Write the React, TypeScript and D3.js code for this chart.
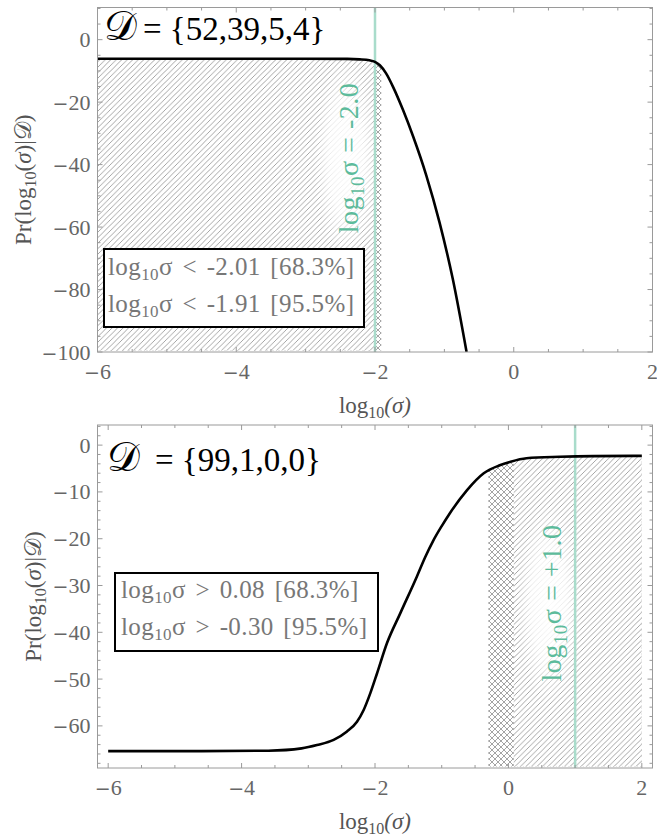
import React from 'react';
import * as d3 from 'd3';

const W = 657;
const H = 837;

// ---- data ----
const topX = [-6, -4, -3, -2.4, -2.22, -2.08, -2.0, -1.93, -1.84, -1.74, -1.6, -1.45, -1.26, -1.07, -0.88, -0.68];
const topY = [-6.1, -6.1, -6.1, -6.15, -6.3, -6.6, -7.1, -8.2, -10.8, -15.1, -22.3, -31.0, -43.5, -58.5, -76.5, -100];

const botX = [-6, -4.6, -3.6, -3.1, -2.87, -2.62, -2.42, -2.27, -2.17, -2.07, -1.97, -1.82, -1.62, -1.37, -1.25, -1.13, -1.0, -0.88, -0.62, -0.37, -0.13, 0.02, 0.27, 0.77, 1.27, 2.0];
const botY = [-65.4, -65.4, -65.3, -64.8, -64.1, -63.0, -61.2, -59.1, -56.6, -53.0, -48.8, -42.3, -35.9, -28.0, -24.0, -20.5, -17.3, -14.6, -9.6, -6.0, -4.3, -3.6, -2.8, -2.5, -2.35, -2.3];

const xMajorTicks = [-6, -4, -2, 0, 2];
const topYMajorTicks = [-100, -80, -60, -40, -20, 0];
const botYMajorTicks = [-60, -50, -40, -30, -20, -10, 0];

const topTitle = '{52,39,5,4}';
const botTitle = '{99,1,0,0}';
const topMarker = -2.0;
const botMarker = 1.0;
const topMarkerText = '-2.0';
const botMarkerText = '+1.0';
// [68.3% bound, 95.5% bound]
const topBounds = [-2.01, -1.91];
const botBounds = [0.08, -0.3];
const topLegend = ['< -2.01 [68.3%]', '< -1.91 [95.5%]'];
const botLegend = ['> 0.08 [68.3%]', '> -0.30 [95.5%]'];

const SERIF = '"Liberation Serif", "DejaVu Serif", serif';
const TEAL_TEXT = '#5dbb9b';
const TEAL_LINE = '#a9dccb';
const FRAME = '#9a9a9a';
const TICK_TEXT = '#666';

const serifStyle = { fontFamily: SERIF };
const minusStyle = { fontFamily: '"DejaVu Serif", serif' };

function TickText({ v }: { v: number }) {
  if (v < 0) {
    return (
      <>
        <tspan style={minusStyle} fontSize={19}>{'\u2212'}</tspan>
        <tspan>{String(Math.abs(v))}</tspan>
      </>
    );
  }
  return <tspan>{String(v)}</tspan>;
}

type PanelProps = {
  id: string;
  xs: number[];
  ys: number[];
  xDomain: [number, number];
  yDomain: [number, number];
  left: number;
  right: number;
  top: number;
  bottom: number;
  yMajor: number[];
  yMinorStep: number;
  title: string;
  titleX: number;
  titleY: number;
  titleGap: number;
  marker: number;
  markerText: string;
  markerLabelX: number;
  markerLabelY: number;
  bounds: number[];
  direction: 'lt' | 'gt';
  legend: string[];
  legendBox: [number, number, number, number];
  legendTextX: number;
  legendBaselines: number[];
  yLabelX: number;
};

function Panel(p: PanelProps) {
  const x = d3.scaleLinear().domain(p.xDomain).range([p.left, p.right]);
  const y = d3.scaleLinear().domain(p.yDomain).range([p.bottom, p.top]);
  const pts: [number, number][] = p.xs.map((v, i) => [v, p.ys[i]]);
  const line = d3
    .line<[number, number]>()
    .x((d) => x(d[0]))
    .y((d) => y(d[1]))
    .curve(d3.curveMonotoneX);
  const area = d3
    .area<[number, number]>()
    .x((d) => x(d[0]))
    .y0(p.bottom)
    .y1((d) => y(d[1]))
    .curve(d3.curveMonotoneX);

  const xMinorTicks = d3.range(Math.ceil(p.xDomain[0] * 2) / 2, p.xDomain[1] + 1e-9, 0.5);
  const yMinorTicks = d3.range(
    Math.ceil(p.yDomain[0] / p.yMinorStep) * p.yMinorStep,
    p.yDomain[1] + 1e-9,
    p.yMinorStep
  );

  const [b68, b95] = p.bounds;
  const r95 = p.direction === 'lt' ? [p.xs[0], b95] : [b95, p.xs[p.xs.length - 1]];
  const r68 = p.direction === 'lt' ? [p.xs[0], b68] : [b68, p.xs[p.xs.length - 1]];

  const mx = x(p.marker);
  const [bx, by, bw, bh] = p.legendBox;
  const midX = (p.left + p.right) / 2;
  const midY = (p.top + p.bottom) / 2;

  return (
    <g>
      <defs>
        <clipPath id={`clipArea-${p.id}`}>
          <path d={area(pts) || ''} />
        </clipPath>
        <clipPath id={`clipFrame-${p.id}`}>
          <rect x={p.left} y={p.top} width={p.right - p.left} height={p.bottom - p.top} />
        </clipPath>
        <radialGradient id={`glow-${p.id}`}>
          <stop offset="0%" stopColor="#fff" stopOpacity={0.95} />
          <stop offset="55%" stopColor="#fff" stopOpacity={0.75} />
          <stop offset="100%" stopColor="#fff" stopOpacity={0} />
        </radialGradient>
      </defs>
      <g clipPath={`url(#clipFrame-${p.id})`}>
        <g clipPath={`url(#clipArea-${p.id})`}>
          <rect
            x={x(r95[0])}
            y={p.top}
            width={x(r95[1]) - x(r95[0])}
            height={p.bottom - p.top - 1.5}
            fill="url(#hatchX)"
          />
          <rect
            x={x(r68[0])}
            y={p.top}
            width={x(r68[1]) - x(r68[0])}
            height={p.bottom - p.top - 1.5}
            fill="url(#hatchF)"
          />
        </g>
        <ellipse
          cx={p.markerLabelX - 12}
          cy={p.markerLabelY}
          rx={32}
          ry={100}
          fill={`url(#glow-${p.id})`}
        />
        <line x1={mx} x2={mx} y1={p.top} y2={p.bottom} stroke={TEAL_LINE} strokeWidth={2.5} />
        <text
          transform={`translate(${p.markerLabelX},${p.markerLabelY}) rotate(-90)`}
          textAnchor="middle"
          style={serifStyle}
          fontSize={28}
          letterSpacing={0.5}
          fill={TEAL_TEXT}
        >
          <tspan>log</tspan>
          <tspan dy={6} fontSize={19}>10</tspan>
          <tspan dy={-6}>{'σ = ' + p.markerText}</tspan>
        </text>
        <path d={line(pts) || ''} fill="none" stroke="#000" strokeWidth={2.6} strokeLinejoin="round" />
      </g>

      {/* legend */}
      <rect x={bx} y={by} width={bw} height={bh} fill="#fff" stroke="#000" strokeWidth={2} />
      {p.legend.map((t, i) => (
        <text
          key={i}
          x={p.legendTextX}
          y={p.legendBaselines[i]}
          style={serifStyle}
          fontSize={25}
          letterSpacing={0.4}
          wordSpacing={3}
          fill="#777"
        >
          <tspan>log</tspan>
          <tspan dy={5} fontSize={17}>10</tspan>
          <tspan dy={-5}>{'σ ' + t}</tspan>
        </text>
      ))}

      {/* title */}
      <text x={p.titleX} y={p.titleY} style={serifStyle} fontSize={33} fill="#000">
        <tspan fontSize={41}>{'\u{1D49F}'}</tspan>
        <tspan dx={p.titleGap}>{'= ' + p.title}</tspan>
      </text>

      {/* frame */}
      <rect
        x={p.left}
        y={p.top}
        width={p.right - p.left}
        height={p.bottom - p.top}
        fill="none"
        stroke={FRAME}
        strokeWidth={1}
      />
      {xMinorTicks.map((v, i) => {
        const major = xMajorTicks.includes(Math.round(v * 100) / 100);
        const L = major ? 5 : 3;
        return (
          <g key={'xt' + i}>
            <line x1={x(v)} x2={x(v)} y1={p.bottom} y2={p.bottom - L} stroke={FRAME} />
            <line x1={x(v)} x2={x(v)} y1={p.top} y2={p.top + L} stroke={FRAME} />
          </g>
        );
      })}
      {yMinorTicks.map((v, i) => {
        const major = p.yMajor.includes(Math.round(v));
        const L = major ? 5 : 3;
        return (
          <g key={'yt' + i}>
            <line x1={p.left} x2={p.left + L} y1={y(v)} y2={y(v)} stroke={FRAME} />
            <line x1={p.right} x2={p.right - L} y1={y(v)} y2={y(v)} stroke={FRAME} />
          </g>
        );
      })}
      {xMajorTicks.map((v) => (
        <text
          key={'xl' + v}
          x={x(v)}
          y={p.bottom + 27}
          textAnchor="middle"
          style={serifStyle}
          fontSize={22}
          fill={TICK_TEXT}
        >
          <TickText v={v} />
        </text>
      ))}
      {p.yMajor.map((v) => (
        <text
          key={'yl' + v}
          x={p.left - 7}
          y={y(v) + 7.5}
          textAnchor="end"
          style={serifStyle}
          fontSize={22}
          fill={TICK_TEXT}
        >
          <TickText v={v} />
        </text>
      ))}
      {/* axis labels */}
      <text x={midX} y={p.bottom + 61} textAnchor="middle" style={serifStyle} fontSize={23} fill="#555">
        <tspan>log</tspan>
        <tspan dy={5} fontSize={16}>10</tspan>
        <tspan dy={-5} fontStyle="italic">(σ)</tspan>
      </text>
      <text
        transform={`translate(${p.yLabelX},${midY}) rotate(-90)`}
        textAnchor="middle"
        style={serifStyle}
        fontSize={23}
        fill="#555"
      >
        <tspan>Pr(log</tspan>
        <tspan dy={5} fontSize={16}>10</tspan>
        <tspan dy={-5}>(</tspan>
        <tspan fontStyle="italic">σ</tspan>
        <tspan>)|</tspan>
        <tspan>{'\u{1D49F}'}</tspan>
        <tspan>)</tspan>
      </text>
    </g>
  );
}

export default function App() {
  return (
    <svg
      width={W}
      height={H}
      viewBox={`0 0 ${W} ${H}`}
      style={{ position: 'absolute', left: 0, top: 0, background: '#fff' }}
    >
      <defs>
        <pattern id="hatchF" width={5.5} height={5.5} patternUnits="userSpaceOnUse">
          <rect width={5.5} height={5.5} fill="#fff" />
          <path d="M-1,1 l2,-2 M0,5.5 l5.5,-5.5 M4.5,6.5 l2,-2" stroke="#8e8e8e" strokeWidth={0.8} />
        </pattern>
        <pattern id="hatchX" width={6} height={6} patternUnits="userSpaceOnUse">
          <rect width={6} height={6} fill="#fff" />
          <path
            d="M-1,1 l2,-2 M0,6 l6,-6 M5,7 l2,-2 M-1,5 l2,2 M0,0 l6,6 M5,-1 l2,2"
            stroke="#858585"
            strokeWidth={0.75}
          />
        </pattern>
      </defs>
      <rect width={W} height={H} fill="#fff" />
      <Panel
        id="top"
        xs={topX}
        ys={topY}
        xDomain={[-6, 2]}
        yDomain={[-100, 10.3]}
        left={97.5}
        right={652.5}
        top={7.5}
        bottom={352}
        yMajor={topYMajorTicks}
        yMinorStep={5}
        title={topTitle}
        titleX={104}
        titleY={40}
        titleGap={6}
        marker={topMarker}
        markerText={topMarkerText}
        markerLabelX={358}
        markerLabelY={158}
        bounds={topBounds}
        direction="lt"
        legend={topLegend}
        legendBox={[104, 249, 260, 78]}
        legendTextX={108}
        legendBaselines={[275, 312]}
        yLabelX={31}
      />
      <Panel
        id="bot"
        xs={botX}
        ys={botY}
        xDomain={[-6.16, 2.16]}
        yDomain={[-69, 4.3]}
        left={97.5}
        right={652.5}
        top={425}
        bottom={768}
        yMajor={botYMajorTicks}
        yMinorStep={2}
        title={botTitle}
        titleX={107}
        titleY={471}
        titleGap={15}
        marker={botMarker}
        markerText={botMarkerText}
        markerLabelX={561}
        markerLabelY={603}
        bounds={botBounds}
        direction="gt"
        legend={botLegend}
        legendBox={[115, 573, 263, 78]}
        legendTextX={121}
        legendBaselines={[598, 635]}
        yLabelX={41}
      />
    </svg>
  );
}
